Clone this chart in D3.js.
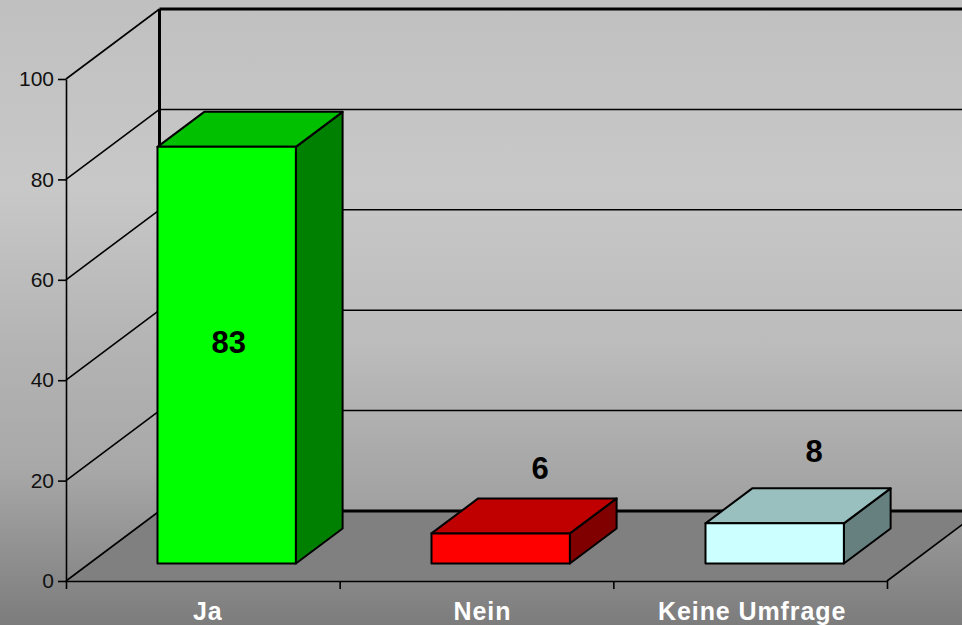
<!DOCTYPE html>
<html>
<head>
<meta charset="utf-8">
<script src="https://cdn.jsdelivr.net/npm/d3@7"></script>
<style>
  html, body { margin: 0; padding: 0; background: #999; overflow: hidden; }
  text { font-family: "Liberation Sans", Arial, sans-serif; }
</style>
</head>
<body>
<svg id="root"></svg>
<script>
const categories = ["Ja", "Nein", "Keine Umfrage"];
const values = [83, 6, 8];
const yTicks = [0, 20, 40, 60, 80, 100];
const faceColors = ["#00ff00", "#ff0000", "#ccffff"];
const topColors = ["#00c000", "#c00000", "#99bfbf"];
const sideColors = ["#008000", "#800000", "#668080"];

const width = 962, height = 625;

const svg = d3.select("#root").attr("width", width).attr("height", height);

// Scales for the front plane, plus a depth scale for the oblique projection
const xScale = d3.scaleBand(categories, [65.6, 889]).paddingInner(0.495).paddingOuter(0.25);
const xStep = d3.scaleBand(categories, [66, 887]);
const yScale = d3.scaleLinear([0, 100], [581, 79]);
const depthX = d3.scaleLinear([0, 1], [0, 93.5]);
const depthY = d3.scaleLinear([0, 1], [0, -70]);

const project = (x, v, d) => [x + depthX(d), yScale(v) + depthY(d)];
const poly = pts => "M" + pts.map(p => p.join(",")).join("L") + "Z";

// Gradients
const defs = svg.append("defs");
function gradient(id, stops) {
  const g = defs.append("linearGradient").attr("id", id)
    .attr("gradientUnits", "userSpaceOnUse")
    .attr("x1", 0).attr("y1", 0).attr("x2", 0).attr("y2", height);
  stops.forEach(s => g.append("stop").attr("offset", s[0]).attr("stop-color", s[1]));
}
gradient("bg", [[0, "#c0c0c0"], [0.3, "#c8c8c8"], [0.55, "#b4b4b4"], [0.75, "#a8a8a8"], [1, "#7c7c7c"]]);
gradient("wall", [[0, "#c0c0c0"], [0.3, "#c8c8c8"], [0.55, "#bcbcbc"], [0.82, "#a0a0a0"]]);

svg.append("rect").attr("width", width).attr("height", height).attr("fill", "url(#bg)");

const xMin = 66, xMax = 887;

// Back wall
svg.append("path")
  .attr("d", poly([project(xMin, 0, 1), project(xMax, 0, 1), project(xMax, 100, 1), project(xMin, 100, 1)]))
  .attr("fill", "url(#wall)");

// Floor
svg.append("path")
  .attr("d", poly([project(xMin, 0, 0), project(xMax, 0, 0), project(xMax, 0, 1), project(xMin, 0, 1)]))
  .attr("fill", "#808080");

// Gridlines on side wall and back wall
yTicks.forEach(t => {
  const a = project(xMin, t, 0), b = project(xMin, t, 1), c = project(xMax, t, 1);
  const heavy = t === 0 || t === 100;
  svg.append("line").attr("x1", a[0]).attr("y1", a[1]).attr("x2", b[0]).attr("y2", b[1])
    .attr("stroke", "#000").attr("stroke-width", 1.6);
  svg.append("line").attr("x1", b[0]).attr("y1", b[1]).attr("x2", c[0]).attr("y2", c[1])
    .attr("stroke", "#000").attr("stroke-width", heavy ? 3 : 1.5);
});

// Back corner and right floor edge
const backBottom = project(xMin, 0, 1), backTop = project(xMin, 100, 1);
svg.append("line").attr("x1", backBottom[0]).attr("y1", backBottom[1]).attr("x2", backTop[0]).attr("y2", backTop[1])
  .attr("stroke", "#000").attr("stroke-width", 3);
const floorA = project(xMax, 0, 0), floorB = project(xMax, 0, 1);
svg.append("line").attr("x1", floorA[0]).attr("y1", floorA[1]).attr("x2", floorB[0]).attr("y2", floorB[1])
  .attr("stroke", "#000").attr("stroke-width", 1.6);

// Axes
const yAxis = d3.axisLeft(yScale).tickValues(yTicks).tickSize(8).tickSizeOuter(0).tickPadding(4);
const yG = svg.append("g").attr("transform", `translate(${xMin},0)`).call(yAxis);
yG.selectAll("path,line").attr("stroke", "#000").attr("stroke-width", 1.6);
yG.selectAll("text").attr("font-size", 21).attr("font-family", "Liberation Sans").attr("fill", "#111");

const xEdges = [xMin].concat(categories.map(c => xStep(c) + xStep.step()));
const xAxis = d3.axisBottom(d3.scaleLinear([xMin, xMax], [xMin, xMax]))
  .tickValues(xEdges).tickSize(8).tickSizeOuter(0).tickFormat("");
const xG = svg.append("g").attr("transform", `translate(0,${yScale(0)})`).call(xAxis);
xG.selectAll("path,line").attr("stroke", "#000").attr("stroke-width", 1.6);

const catShift = [5, 6, 2];
svg.selectAll(".cat").data(categories).join("text")
  .attr("class", "cat")
  .attr("x", (d, i) => xStep(d) + xStep.step() / 2 + catShift[i])
  .attr("y", 620)
  .attr("text-anchor", "middle")
  .attr("font-size", 25)
  .attr("font-weight", "bold")
  .attr("letter-spacing", 0.9)
  .attr("fill", "#fff")
  .text(d => d);

// Bars: near face at depth .25, far face at depth .75
const dNear = 0.25, dFar = 0.75;
const bars = svg.selectAll(".bar").data(categories).join("g").attr("class", "bar")
  .attr("stroke", "#000").attr("stroke-width", 2).attr("stroke-linejoin", "round");

bars.append("path").attr("fill", (d, i) => sideColors[i])
  .attr("d", (d, i) => {
    const x = xScale(d) + xScale.bandwidth();
    return poly([project(x, 0, dNear), project(x, 0, dFar), project(x, values[i], dFar), project(x, values[i], dNear)]);
  });
bars.append("path").attr("fill", (d, i) => topColors[i])
  .attr("d", (d, i) => {
    const x0 = xScale(d), x1 = x0 + xScale.bandwidth();
    return poly([project(x0, values[i], dNear), project(x1, values[i], dNear), project(x1, values[i], dFar), project(x0, values[i], dFar)]);
  });
bars.append("path").attr("fill", (d, i) => faceColors[i])
  .attr("d", (d, i) => {
    const x0 = xScale(d), x1 = x0 + xScale.bandwidth();
    return poly([project(x0, 0, dNear), project(x1, 0, dNear), project(x1, values[i], dNear), project(x0, values[i], dNear)]);
  });

// Value labels: centred on the tall bar's face, above the short ones
const labelLift = [0, 19, 26];
svg.selectAll(".val").data(categories).join("text")
  .attr("class", "val")
  .attr("x", (d, i) => {
    const mid = xScale(d) + xScale.bandwidth() / 2;
    return values[i] > 50 ? project(mid, 0, dNear)[0] + 2 : project(mid, 0, 0.5)[0] + 16;
  })
  .attr("y", (d, i) => values[i] > 50
    ? project(0, values[i] / 2, dNear)[1] - 2
    : project(0, values[i], dFar)[1] - labelLift[i])
  .attr("text-anchor", "middle")
  .attr("font-size", 31)
  .attr("font-weight", "bold")
  .attr("fill", "#000")
  .text((d, i) => values[i]);
</script>
</body>
</html>
